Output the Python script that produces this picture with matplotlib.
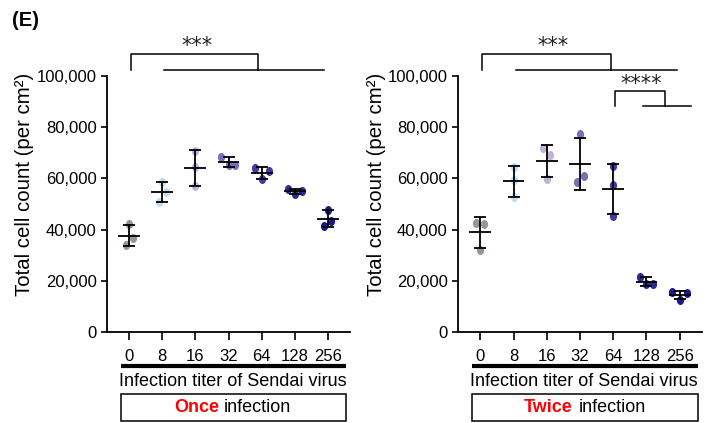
import numpy as np
import matplotlib
matplotlib.use('Agg')
import matplotlib.pyplot as plt
from matplotlib.ticker import FuncFormatter
from matplotlib.patches import Rectangle
from matplotlib.path import Path
from matplotlib.transforms import Affine2D

plt.rcParams['font.family'] = ['Liberation Sans', 'DejaVu Sans']

# data (cells per cm2), three replicates per titer
titers = ['0', '8', '16', '32', '64', '128', '256']
once = [
    [42200, 36700, 34100],
    [58700, 54600, 50800],
    [70800, 64300, 57000],
    [68500, 65200, 65200],
    [63900, 62900, 59600],
    [55900, 55100, 53800],
    [47800, 43400, 41500],
]
twice = [
    [42700, 42100, 32000],
    [64600, 59200, 52600],
    [71700, 69100, 59900],
    [77300, 61100, 58500],
    [64800, 57400, 45400],
    [21600, 18600, 18750],
    [15600, 12500, 15100],
]
colors = ['#9d9393', '#c4daee', '#c2b3d9', '#7e6cb6', '#4936a0', '#2d2a98', '#1b1a8b']

# horizontal spread of replicate dots
once_jit = [[0, 0.11, -0.11], [0, 0.11, -0.11], [0, 0, 0], [-0.22, 0, 0.21],
            [-0.21, 0.21, 0], [-0.21, 0.21, 0], [0, 0.11, -0.11]]
twice_jit = [[-0.12, 0.1, 0], [0, 0, 0], [-0.1, 0.1, 0], [0, 0.11, -0.1],
             [0, 0, 0], [-0.21, 0, 0.21], [-0.22, 0, 0.21]]

# slightly tall oval dot, like the original
oval = Affine2D().scale(0.8, 1.0).transform_path(Path.unit_circle())

W, H = 711, 423
fig = plt.figure(figsize=(W / 100, H / 100), dpi=100)


def px_ax(x0, x1, ytop, ybot):
    return fig.add_axes([x0 / W, 1 - ybot / H, (x1 - x0) / W, (ybot - ytop) / H])


def panel(ax, data, jit, word, word_end, rest_start, brackets):
    for i, vals in enumerate(data):
        xs = i + np.array(jit[i])
        ax.plot(xs, vals, linestyle='none', marker=oval, color=colors[i], ms=6.5,
                mec='none', zorder=2)
        m = np.mean(vals)
        sd = np.std(vals, ddof=1)
        ax.errorbar(i, m, yerr=sd, fmt='none', ecolor='black', elinewidth=1.3,
                    capsize=4, capthick=1.3, zorder=3)
        ax.hlines(m, i - 0.33, i + 0.33, color='black', lw=1.3, zorder=3)

    ax.set_xlim(-0.67, 6.67)
    ax.set_ylim(0, 100000)
    ax.set_yticks(np.arange(0, 100001, 20000))
    ax.yaxis.set_major_formatter(FuncFormatter(lambda v, p: f'{int(v):,}'))
    ax.set_xticks(range(len(titers)))
    ax.set_xticklabels(titers)
    ax.tick_params(axis='y', labelsize=12, length=4, width=1.2, pad=3.3)
    ax.tick_params(axis='x', labelsize=12, length=6, width=1.2, pad=6)
    for s in ['top', 'right']:
        ax.spines[s].set_visible(False)
    for s in ['left', 'bottom']:
        ax.spines[s].set_linewidth(1.3)

    # significance brackets
    for (xa, xb, xc, xd, ylo, yhi, stars, tx, ty) in brackets:
        ax.plot([xa, xa, xb, xb], [ylo, yhi, yhi, ylo], color='black', lw=1.1, clip_on=False)
        ax.plot([xc, xd], [ylo, ylo], color='black', lw=1.1, clip_on=False)
        ax.text(tx, ty, stars, ha='center', va='center', fontsize=15,
                family='DejaVu Sans', color='#222222', clip_on=False)

    # x axis annotation
    ax.plot([0.056, 0.982], [-0.132, -0.132], color='black', lw=3,
            transform=ax.transAxes, clip_on=False, solid_capstyle='butt')
    ax.text(0.516, -0.194, 'Infection titer of Sendai virus', ha='center', va='center',
            fontsize=13, transform=ax.transAxes)
    ax.add_patch(Rectangle((0.056, -0.348), 0.926, 0.106, transform=ax.transAxes,
                           fill=False, ec='black', lw=1.1, clip_on=False))
    ax.text(word_end, -0.295, word, ha='right', va='center', fontsize=13,
            color='red', fontweight='bold', transform=ax.transAxes)
    ax.text(rest_start, -0.295, 'infection', ha='left', va='center', fontsize=13,
            transform=ax.transAxes)


ax1 = px_ax(107, 350, 76, 332)
ax2 = px_ax(458, 702, 76, 332)

panel(ax1, once, once_jit, 'Once', 0.461, 0.481,
      [(0.04, 3.89, 1.05, 5.87, 102300, 108500, '***', 2.05, 111800)])
panel(ax2, twice, twice_jit, 'Twice', 0.468, 0.493,
      [(0.06, 3.92, 1.08, 5.91, 102300, 108500, '***', 2.2, 111800),
       (4.06, 5.57, 4.9, 6.33, 88300, 94300, '****', 4.84, 96900)])

fig.text(25 / W, 1 - 184 / H, 'Total cell count (per cm²)', rotation=90,
         ha='center', va='center', fontsize=14.7)
fig.text(376.5 / W, 1 - 184 / H, 'Total cell count (per cm²)', rotation=90,
         ha='center', va='center', fontsize=14.7)
fig.text(12 / W, 1 - 21 / H, '(E)', ha='left', va='center', fontsize=14.5, fontweight='bold')

fig.savefig('out.png', dpi=100)
